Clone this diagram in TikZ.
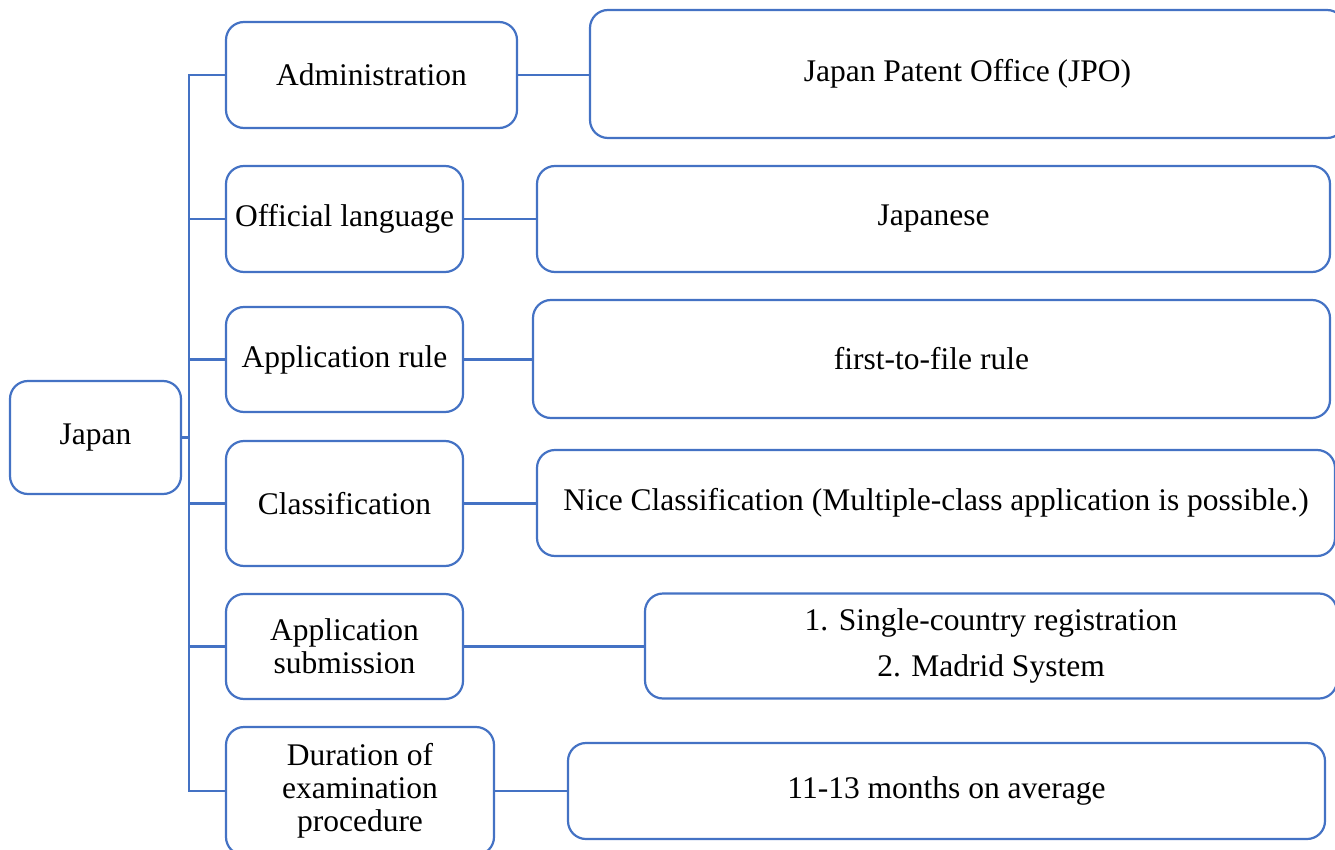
\documentclass[tikz,border=0pt]{standalone}
\usepackage{fontspec}
\setmainfont{Liberation Serif}
\definecolor{boxblue}{RGB}{68,114,196}
\begin{document}
\begin{tikzpicture}[x=1pt,y=-1pt,
  box/.style={draw=boxblue,line width=2.2pt,rounded corners=18pt,fill=white,
    inner sep=0pt,align=center,font=\fontsize{31.5}{33}\selectfont},
  link/.style={draw=boxblue,line width=2.2pt}]
\useasboundingbox (0,0) rectangle (1335,850);
\clip (0,0) rectangle (1335,850);
\node[box,minimum width=171pt,minimum height=113pt] (japan) at (95.5,437.5) {Japan};
\node[box,minimum width=291pt,minimum height=106pt] (adm) at (371.5,75) {Administration};
\node[box,minimum width=755pt,minimum height=128pt] (jpo) at (967.5,74) {Japan Patent Office (JPO)};
\node[box,minimum width=237pt,minimum height=106pt] (off) at (344.5,219) {Official language};
\node[box,minimum width=793pt,minimum height=106pt] (jpn) at (933.5,219) {Japanese};
\node[box,minimum width=237pt,minimum height=105pt] (rule) at (344.5,359.5) {Application rule};
\node[box,minimum width=797pt,minimum height=118pt] (ftf) at (931.5,359) {first-to-file rule};
\node[box,minimum width=237pt,minimum height=125pt] (cls) at (344.5,503.5) {Classification};
\node[box,minimum width=798pt,minimum height=106pt] (nice) at (936,503) {Nice Classification (Multiple-class application is possible.)};
\node[box,minimum width=237pt,minimum height=105pt] (sub) at (344.5,646.5) {Application\\submission};
\node[box,minimum width=692pt,minimum height=105pt] (mad) at (991,646) {1. Single-country registration\\[13pt]2. Madrid System};
\node[box,minimum width=268pt,minimum height=128pt] (dur) at (360,791) {Duration of\\examination\\procedure};
\node[box,minimum width=757pt,minimum height=96pt] (avg) at (946.5,791) {11-13 months on average};
\coordinate (tk) at (189,0);
\draw[link] (adm.west) -- (adm.west -| tk) -- (dur.west -| tk) -- (dur.west);
\foreach \n in {off,rule,cls,sub} \draw[link] (\n.west) -- (\n.west -| tk);
\draw[link] (japan.east) -- (japan.east -| tk);
\draw[link] (adm.east) -- (jpo.west |- adm.east);
\draw[link] (off.east) -- (jpn.west);
\draw[link] (rule.east) -- (ftf.west |- rule.east);
\draw[link] (cls.east) -- (nice.west |- cls.east);
\draw[link] (sub.east) -- (mad.west |- sub.east);
\draw[link] (dur.east) -- (avg.west);
\end{tikzpicture}
\end{document}
